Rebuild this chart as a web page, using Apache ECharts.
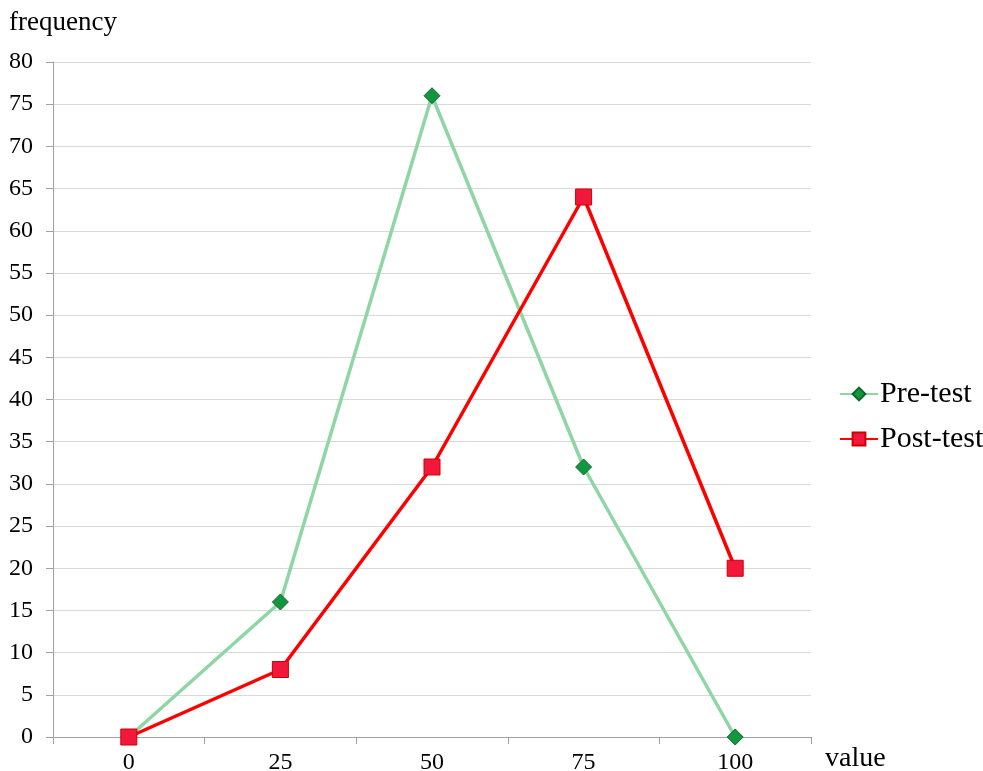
<!DOCTYPE html>
<html>
<head>
<meta charset="utf-8">
<script src="https://cdn.jsdelivr.net/npm/echarts@6/dist/echarts.min.js"></script>
<style>
  html, body { margin: 0; padding: 0; background: #fff; }
  #main { width: 983px; height: 771px; }
</style>
</head>
<body>
<div id="main"></div>
<script>
// data
var categories = ["0", "25", "50", "75", "100"];
var preTest = [0, 16, 76, 32, 0];
var postTest = [0, 8, 32, 64, 20];

var serif = "'Liberation Serif', 'DejaVu Serif', serif";

var myChart = echarts.init(document.getElementById("main"));
var option = {
  animation: false,
  textStyle: { fontFamily: serif },
  grid: { left: 53, right: 172, top: 62, bottom: 34, containLabel: false, outerBoundsMode: "none" },
  legend: {
    orient: "vertical",
    left: 834,
    top: 374,
    itemWidth: 38,
    itemHeight: 16,
    itemGap: 15,
    textStyle: { fontFamily: serif, fontSize: 30, color: "#000", padding: [0, 0, 0, -3] },
    data: ["Pre-test", "Post-test"]
  },
  xAxis: {
    type: "category",
    data: categories,
    boundaryGap: true,
    name: "value",
    nameLocation: "end",
    nameGap: 14,
    nameTextStyle: { fontFamily: serif, fontSize: 28, color: "#000", verticalAlign: "top", padding: [8, 0, 0, 0] },
    axisLine: { lineStyle: { color: "#a0a0a0", width: 1 } },
    axisTick: { show: true, length: 7, alignWithLabel: false, lineStyle: { color: "#a0a0a0" } },
    axisLabel: { fontFamily: serif, fontSize: 24, color: "#000", margin: 14 },
    splitLine: { show: false }
  },
  yAxis: {
    type: "value",
    min: 0,
    max: 80,
    interval: 5,
    name: "frequency",
    nameLocation: "end",
    nameGap: 26,
    nameTextStyle: { fontFamily: serif, fontSize: 27, color: "#000", align: "center", padding: [0, 0, 0, 20] },
    axisLine: { show: true, lineStyle: { color: "#a0a0a0", width: 1 } },
    axisTick: { show: true, length: 7, lineStyle: { color: "#a0a0a0" } },
    axisLabel: { fontFamily: serif, fontSize: 24, color: "#000", margin: 20 },
    splitLine: { show: true, lineStyle: { color: "#d9d9d9", width: 1 } }
  },
  series: [
    {
      name: "Pre-test",
      type: "line",
      data: preTest,
      symbol: "diamond",
      symbolSize: 16,
      lineStyle: { color: "#8fd6a4", width: 3.5 },
      itemStyle: { color: "#12963f", borderColor: "#0b6a2b", borderWidth: 1 },
      z: 2
    },
    {
      name: "Post-test",
      type: "line",
      data: postTest,
      symbol: "rect",
      symbolSize: 16,
      lineStyle: { color: "#ff0000", width: 3.5 },
      itemStyle: { color: "#f2183c", borderColor: "#d00000", borderWidth: 1 },
      z: 3
    }
  ]
};
myChart.setOption(option);
</script>
</body>
</html>
